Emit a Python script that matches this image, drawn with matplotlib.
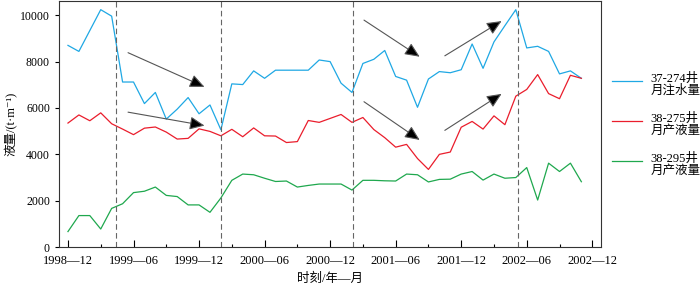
import numpy as np
import matplotlib.pyplot as plt
from matplotlib.lines import Line2D
from matplotlib.ticker import MultipleLocator

plt.rcParams['font.family'] = ['Liberation Serif', 'Noto Sans CJK SC', 'DejaVu Sans']

# monthly data, 1998-12 .. 2002-11
months = np.arange(48)
tick_labels = ["1998—12", "1999—06", "1999—12", "2000—06", "2000—12",
               "2001—06", "2001—12", "2002—06", "2002—12"]

inj_37_274 = [8700, 8440, 9340, 10240, 9960, 7120, 7120, 6190, 6670, 5520,
              5950, 6450, 5750, 6130, 5060, 7040, 7010, 7600, 7280, 7630,
              7630, 7630, 7630, 8070, 8000, 7070, 6670, 7920, 8100, 8480,
              7360, 7200, 6030, 7250, 7570, 7520, 7650, 8760, 7710, 8850,
              9550, 10240, 8590, 8660, 8440, 7470, 7600, 7280]
liq_38_275 = [5350, 5700, 5450, 5790, 5320, 5090, 4850, 5130, 5180, 4960,
              4660, 4690, 5100, 4990, 4800, 5080, 4760, 5140, 4800, 4790,
              4510, 4550, 5460, 5380, 5550, 5720, 5380, 5590, 5070, 4720,
              4310, 4430, 3820, 3350, 4000, 4100, 5170, 5420, 5090, 5660,
              5280, 6510, 6800, 7440, 6620, 6400, 7410, 7280]
liq_38_295 = [670, 1360, 1360, 780, 1670, 1870, 2350, 2410, 2590, 2230,
              2180, 1820, 1820, 1500, 2120, 2880, 3150, 3120, 2970, 2830,
              2850, 2590, 2660, 2720, 2720, 2720, 2460, 2880, 2880, 2860,
              2850, 3150, 3120, 2810, 2920, 2930, 3150, 3260, 2890, 3150,
              2970, 3000, 3430, 2030, 3620, 3260, 3620, 2820]

event_months = [4.4, 14.0, 26.1, 41.2]

# trend arrows: (start month, start value, end month, end value)
arrow_x0 = [5.5, 5.5, 27.1, 27.1, 34.5, 34.5]
arrow_y0 = [8385, 5820, 9790, 6270, 8250, 5035]
arrow_x1 = [12.5, 12.5, 32.2, 32.2, 39.7, 39.7]
arrow_y1 = [6910, 5240, 8210, 4620, 9750, 6610]

series = [inj_37_274, liq_38_275, liq_38_295]
labels = ["37-274井\n月注水量", "38-275井\n月产液量", "38-295井\n月产液量"]
colors = ["#1fa8e4", "#ea1d2c", "#1fa84e"]

fig = plt.figure(figsize=(7, 2.87), dpi=100)
ax = fig.add_axes([0.0843, 0.139, 0.7743, 0.858])

for vals, c in zip(series, colors):
    ax.plot(months, vals, color=c, lw=0.9)

for m in event_months:
    ax.axvline(m, color="#666666", ls=(0, (5, 3)), lw=0.8)

for x0, y0, x1, y1 in zip(arrow_x0, arrow_y0, arrow_x1, arrow_y1):
    ax.annotate("", xy=(x1, y1), xytext=(x0, y0),
                arrowprops=dict(arrowstyle="-|>,head_length=0.9,head_width=0.4",
                                ec="#555555", fc="black", lw=0.8,
                                shrinkA=0, shrinkB=0))

ax.set_xlim(-0.82, 48.8)
ax.set_ylim(0, 10620)
ax.set_xticks(np.arange(0, 49, 6))
ax.set_xticklabels(tick_labels)
ax.xaxis.set_minor_locator(MultipleLocator(3))
ax.set_yticks(np.arange(0, 10001, 2000))
ax.tick_params(axis="x", which="major", direction="in", length=5, width=0.8,
               labelsize=9, pad=6)
ax.tick_params(axis="x", which="minor", direction="in", length=2.5, width=0.8)
ax.tick_params(axis="y", direction="out", length=3, width=0.8, labelsize=8.5)
for s in ax.spines.values():
    s.set_linewidth(0.8)
    s.set_color("#333333")

ax.set_xlabel("时刻/年—月", fontsize=9, labelpad=4)
ax.set_ylabel("液量/(t·m⁻¹)", fontsize=9, labelpad=2)

# legend on the right, outside the axes
leg_y = [0.718, 0.578, 0.439]
for y, lab, c in zip(leg_y, labels, colors):
    fig.add_artist(Line2D([0.874, 0.917], [y, y], color=c, lw=0.9))
    fig.text(0.929, y + 0.03, lab, fontsize=9, va="top", ha="left",
             linespacing=1.05)

fig.savefig("out.png", dpi=100)
